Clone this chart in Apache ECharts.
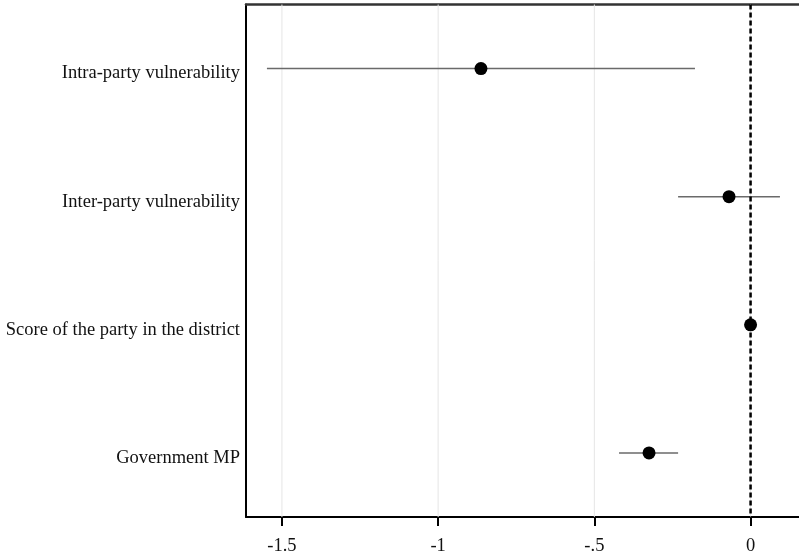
<!DOCTYPE html>
<html><head><meta charset="utf-8">
<script src="https://cdn.jsdelivr.net/npm/echarts@6/dist/echarts.min.js"></script>
<style>html,body{margin:0;padding:0;background:#fff}#c{width:799px;height:556px}</style>
</head><body><div id="c"></div>
<script>
const categories = ['Intra-party vulnerability', 'Inter-party vulnerability', 'Score of the party in the district', 'Government MP'];
const estimates = [-0.863, -0.069, 0.0, -0.325];
const ciLow = [-1.548, -0.232, -0.008, -0.421];
const ciHigh = [-0.178, 0.094, 0.008, -0.232];
const tickValues = [-1.5, -1, -0.5, 0];
const tickLabels = ['-1.5', '-1', '-.5', '0'];
const referenceValue = 0;
const xMin = -1.615, xMax = 0.155;

const font = 'Liberation Serif';
const chart = echarts.init(document.getElementById('c'), null, {renderer: 'canvas'});
chart.setOption({
  animation: false,
  backgroundColor: '#fff',
  grid: {left: 246, right: 0, top: 4.5, bottom: 38.5, containLabel: false},
  xAxis: [{
    type: 'value', position: 'bottom', min: xMin, max: xMax,
    axisLine: {show: true, onZero: false, lineStyle: {color: '#000', width: 2}},
    axisTick: {show: true, customValues: tickValues, length: 9, lineStyle: {color: '#000', width: 2}},
    axisLabel: {show: true, customValues: tickValues, margin: 20, fontFamily: font, fontSize: 18.5, color: '#111',
      formatter: v => { const i = tickValues.findIndex(t => Math.abs(t - v) < 1e-9); return i >= 0 ? tickLabels[i] : ''; }},
    splitLine: {show: false}
  }, {
    type: 'value', position: 'top', min: xMin, max: xMax,
    axisLine: {show: true, onZero: false, lineStyle: {color: '#333', width: 2.5}},
    axisTick: {show: false}, axisLabel: {show: false}, splitLine: {show: false}
  }],
  yAxis: {
    type: 'category', data: categories, inverse: true,
    axisLine: {show: true, onZero: false, lineStyle: {color: '#000', width: 2}},
    axisTick: {show: false},
    axisLabel: {margin: 6, fontFamily: font, fontSize: 18.5, color: '#111', verticalAlign: 'top', lineHeight: 10},
    splitLine: {show: false}
  },
  series: [{
    type: 'custom', z: 1, silent: true,
    data: tickValues.map(v => [v, 0]),
    encode: {x: 0, y: 1},
    renderItem: (params, api) => {
      const x = api.coord([api.value(0), 0])[0];
      const cs = params.coordSys;
      return {type: 'line', shape: {x1: x, y1: cs.y, x2: x, y2: cs.y + cs.height}, style: {stroke: '#e6e6e6', lineWidth: 1}};
    }
  }, {
    type: 'custom', z: 2, silent: true,
    data: categories.map((c, i) => [ciLow[i], ciHigh[i], i]),
    encode: {x: [0, 1], y: 2},
    renderItem: (params, api) => {
      const p1 = api.coord([api.value(0), api.value(2)]);
      const p2 = api.coord([api.value(1), api.value(2)]);
      return {type: 'line', shape: {x1: p1[0], y1: p1[1], x2: p2[0], y2: p2[1]}, style: {stroke: '#6a6a6a', lineWidth: 1.5}};
    }
  }, {
    type: 'custom', z: 3, silent: true,
    data: [[referenceValue, 0]],
    encode: {x: 0, y: 1},
    renderItem: (params, api) => {
      const x = api.coord([api.value(0), 0])[0];
      const cs = params.coordSys;
      return {type: 'line', shape: {x1: x, y1: cs.y, x2: x, y2: cs.y + cs.height}, style: {stroke: '#000', lineWidth: 2.5, lineDash: [5, 3]}};
    }
  }, {
    type: 'scatter', z: 5, silent: true,
    symbol: 'circle', symbolSize: 13,
    itemStyle: {color: '#000', opacity: 1},
    data: categories.map((c, i) => [estimates[i], i])
  }]
});
</script></body></html>
